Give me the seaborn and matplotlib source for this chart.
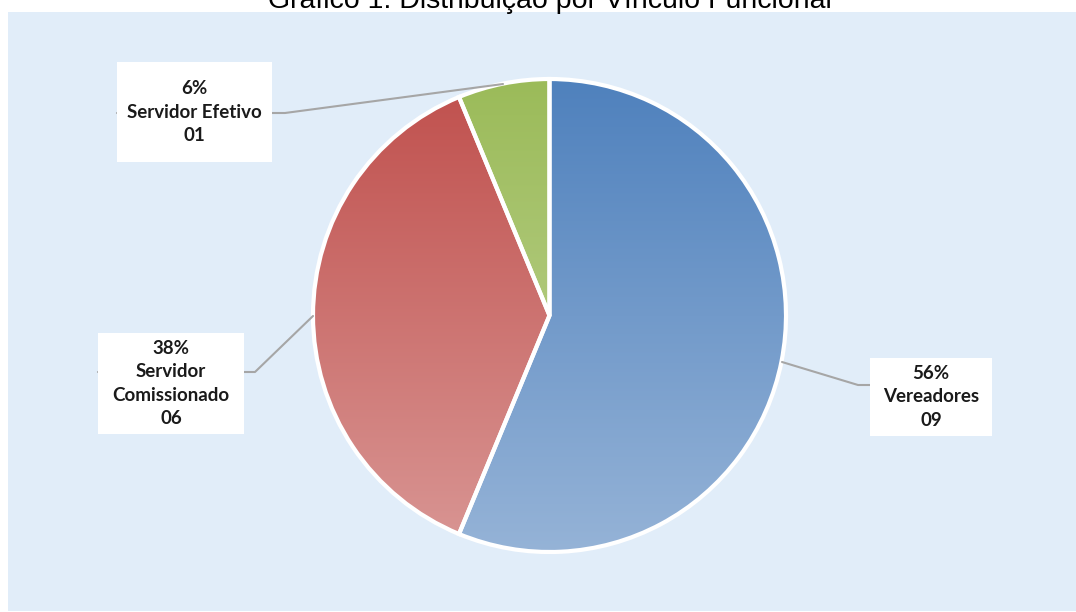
import numpy as np
import matplotlib
matplotlib.use('Agg')
import matplotlib.pyplot as plt
import seaborn as sns
from matplotlib.patches import Rectangle

sns.set_theme(style='white')
plt.rcParams['font.family'] = ['Lato', 'DejaVu Sans']

# dados
categorias = ['Vereadores', 'Servidor Comissionado', 'Servidor Efetivo']
quantidades = [9, 6, 1]
rotulos_qtd = ['09', '06', '01']
rotulos_nome = ['Vereadores', 'Servidor\nComissionado', 'Servidor Efetivo']

# cores (topo -> base do gradiente)
cores_topo = ['#4F81BD', '#C0504D', '#9BBB59']
cores_base = ['#95B3D7', '#D99694', '#C3D69B']

W, H = 1076, 612
fig = plt.figure(figsize=(W / 100, H / 100), dpi=100)
fig.patch.set_facecolor('white')
ax = fig.add_axes([0, 0, 1, 1])

# painel de fundo
ax.add_patch(Rectangle((8, 1), W - 8, H - 13, facecolor='#E1EDF9', edgecolor='none', zorder=0))

# pizza
cx, cy, r = 549.5, H - 315.5, 236.5
wedges, _ = ax.pie(quantidades, startangle=90, counterclock=False,
                   center=(cx, cy), radius=r, frame=True,
                   wedgeprops=dict(edgecolor='white', linewidth=3))
ax.set_xlim(0, W)
ax.set_ylim(0, H)
ax.set_aspect('equal')
ax.axis('off')

# gradiente vertical em cada fatia
for w, c1, c2 in zip(wedges, cores_topo, cores_base):
    cmap = matplotlib.colors.LinearSegmentedColormap.from_list('g', [c2, c1])
    grad = np.linspace(0, 1, 256).reshape(-1, 1)
    im = ax.imshow(grad, cmap=cmap, origin='lower', aspect='auto',
                   extent=(cx - r, cx + r, cy - r, cy + r), zorder=1)
    im.set_clip_path(w)
    w.set_facecolor('none')
    w.set_zorder(2)

# rótulos com linhas de chamada
total = sum(quantidades)
textos = [f"{round(q / total * 100)}%\n{n}\n{t}" for q, n, t in zip(quantidades, rotulos_nome, rotulos_qtd)]
pontos = [(782, 362), (313, 316), (503, 84)]
cotovelos = [(858, 385), (255, 372), (285, 113)]
caixas = [(870, 358, 122, 78), (98, 333, 146, 101), (117, 62, 155, 100)]

for txt, p, c, b in zip(textos, pontos, cotovelos, caixas):
    bx, by, bw, bh = b
    ax.plot([p[0], c[0], bx], [H - p[1], H - c[1], H - c[1]], color='#A6A6A6', lw=1.5, zorder=3)
    ax.add_patch(Rectangle((bx, H - by - bh), bw, bh, facecolor='white', edgecolor='none', zorder=4))
    ax.text(bx + bw / 2, H - by - bh / 2, txt, ha='center', va='center', fontsize=13.5,
            fontweight='bold', color='#1a1a1a', linespacing=1.45, zorder=5)

# título (cortado no topo, como na referência)
fig.text(0.511, 1 - 8 / H, 'Gráfico 1: Distribuição por Vínculo Funcional', ha='center', va='baseline',
         fontsize=20.5, color='black', family=['Liberation Sans', 'DejaVu Sans'])

fig.savefig('out.png', dpi=100, facecolor='white')
